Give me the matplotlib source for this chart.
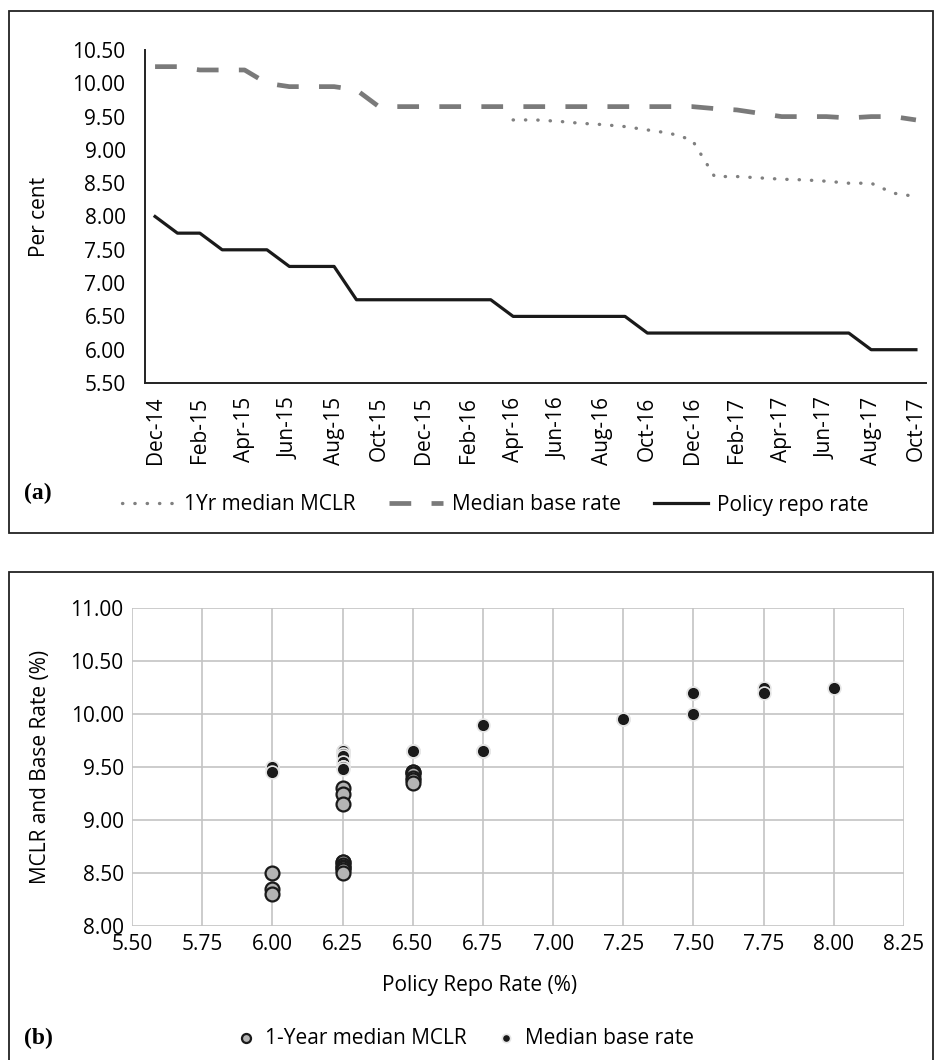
import matplotlib.pyplot as plt
from matplotlib.patches import Rectangle
import numpy as np
import pandas as pd

plt.rcParams['font.family'] = ['Open Sans', 'DejaVu Sans']

# monthly categories Dec-14 .. Oct-17
months = list(pd.date_range('2014-12-01', '2017-10-01', freq='MS').strftime('%b-%y'))

repo_rate = [8.00, 7.75, 7.75, 7.50, 7.50, 7.50, 7.25, 7.25, 7.25,
             6.75, 6.75, 6.75, 6.75, 6.75, 6.75, 6.75,
             6.50, 6.50, 6.50, 6.50, 6.50, 6.50,
             6.25, 6.25, 6.25, 6.25, 6.25, 6.25, 6.25, 6.25, 6.25, 6.25,
             6.00, 6.00, 6.00]

base_rate = [10.25, 10.25, 10.20, 10.20, 10.20, 10.00, 9.95, 9.95, 9.95, 9.90,
             9.65, 9.65, 9.65, 9.65, 9.65, 9.65, 9.65, 9.65, 9.65, 9.65,
             9.65, 9.65, 9.65, 9.65, 9.65,
             9.62, 9.60, 9.55, 9.50, 9.50, 9.50, 9.48, 9.50, 9.50, 9.45]

mclr = [np.nan] * 16 + [9.45, 9.45, 9.43, 9.40, 9.38, 9.35,
                        9.30, 9.25, 9.15, 8.60, 8.60, 8.58, 8.56, 8.55,
                        8.53, 8.50, 8.50, 8.35, 8.30]

W, H = 935, 1060
fig = plt.figure(figsize=(W / 100, H / 100), dpi=100)

# panel frames
fig.patches.append(Rectangle((9 / W, 1 - 533 / H), 924 / W, 522 / H, transform=fig.transFigure,
                             fill=False, lw=1.3, ec='#222222'))
fig.patches.append(Rectangle((9 / W, -0.01), 924 / W, 1 - 572 / H + 0.01, transform=fig.transFigure,
                             fill=False, lw=1.3, ec='#222222'))

# ---- (a) time series ----
ax1 = fig.add_axes([145 / W, 1 - 383 / H, (926 - 145) / W, (383 - 50) / H])
x = np.arange(len(months))
ax1.plot(x, mclr, color='#808080', lw=2.4, linestyle=(0, (0.1, 3.6)),
         dash_capstyle='round', label='1Yr median MCLR')
ax1.plot(x, base_rate, color='#7a7a7a', lw=3.4, linestyle=(0, (4.6, 4.3)),
         label='Median base rate')
ax1.plot(x, repo_rate, color='#1a1a1a', lw=2.3, label='Policy repo rate')
ax1.set_xlim(-0.45, len(months) - 0.55)
ax1.set_ylim(5.5, 10.5)
ax1.set_yticks(np.arange(5.5, 10.51, 0.5))
ax1.set_yticklabels(['%.2f' % v for v in np.arange(5.5, 10.51, 0.5)])
ax1.set_xticks(x[::2])
ax1.set_xticklabels(months[::2], rotation=90)
ax1.tick_params(length=0, labelsize=15, pad=10)
ax1.tick_params(axis='y', pad=14)
for s in ['top', 'right']:
    ax1.spines[s].set_visible(False)
for s in ['left', 'bottom']:
    ax1.spines[s].set_linewidth(1.4)
    ax1.spines[s].set_color('#222222')
ax1.set_ylabel('Per cent', fontsize=15, labelpad=16)

h, l = ax1.get_legend_handles_labels()
fig.legend(h, l, loc='center', bbox_to_anchor=(495 / W, 1 - 505 / H), ncol=3,
           frameon=False, fontsize=15, handlelength=2.6, columnspacing=1.6, handletextpad=0.4)
fig.text(24 / W, 1 - 493 / H, '(a)', fontsize=17, fontweight='bold',
         family='Liberation Serif', va='center')

# ---- (b) scatter ----
ax2 = fig.add_axes([132 / W, 1 - 926 / H, (904 - 132) / W, (926 - 608) / H])
ax2.scatter(repo_rate, mclr, s=100, color='#b4b4b4', edgecolors='#1a1a1a', linewidths=1.6,
            label='1-Year median MCLR', zorder=3)
ax2.scatter(repo_rate, base_rate, s=85, color='#1a1a1a', edgecolors='#e6e6e6', linewidths=1.2,
            label='Median base rate', zorder=4)
ax2.set_xlim(5.5, 8.25)
ax2.set_ylim(8.0, 11.0)
xt = np.arange(5.5, 8.26, 0.25)
yt = np.arange(8.0, 11.01, 0.5)
ax2.set_xticks(xt)
ax2.set_xticklabels(['%.2f' % v for v in xt])
ax2.set_yticks(yt)
ax2.set_yticklabels(['%.2f' % v for v in yt])
ax2.tick_params(length=0, labelsize=15, pad=6)
ax2.grid(True, color='#c4c4c4', lw=1.2)
for s in ax2.spines.values():
    s.set_visible(False)
ax2.set_ylabel('MCLR and Base Rate (%)', fontsize=15, labelpad=14)
fig.text(480 / W, 1 - 985 / H, 'Policy Repo Rate (%)', fontsize=15, ha='center', va='center')

h2, l2 = ax2.get_legend_handles_labels()
fig.legend(h2, l2, loc='center', bbox_to_anchor=(465 / W, 1 - 1038 / H), ncol=2,
           frameon=False, fontsize=15, markerscale=0.65, handlelength=1.0,
           handletextpad=0.4, columnspacing=1.4)
fig.text(24 / W, 1 - 1038 / H, '(b)', fontsize=17, fontweight='bold',
         family='Liberation Serif', va='center')

fig.savefig('out.png', dpi=100)
